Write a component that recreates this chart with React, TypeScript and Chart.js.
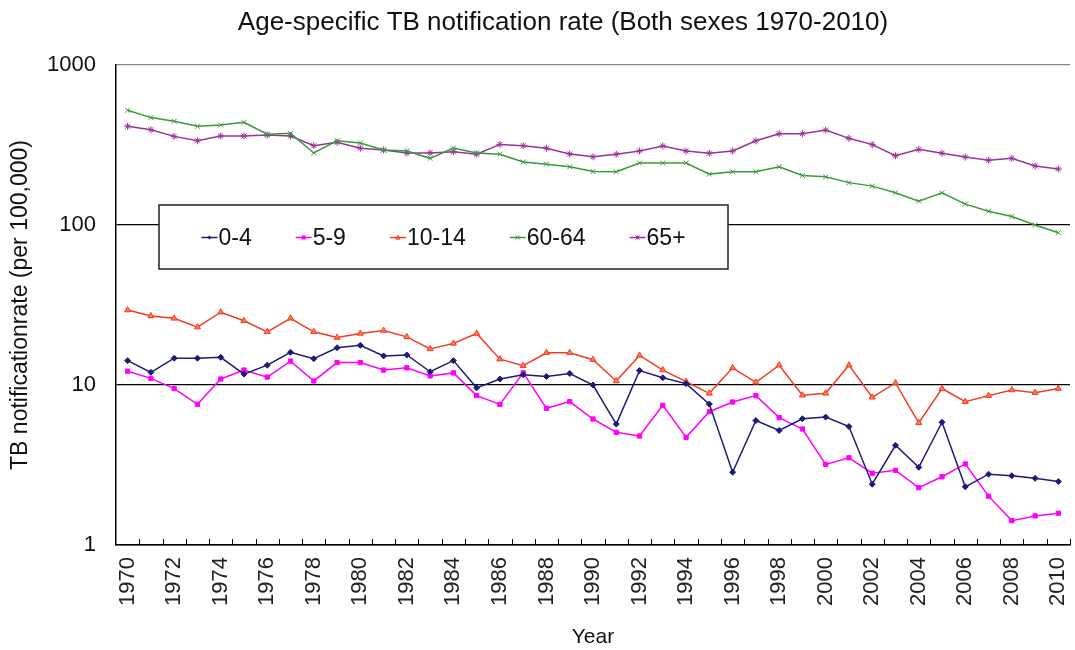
import React, { useEffect, useRef } from "react";
import { Chart, registerables } from "chart.js";

Chart.register(...registerables);

// ---------- data ----------
const years = [
  "1970", "1971", "1972", "1973", "1974", "1975", "1976", "1977", "1978", "1979",
  "1980", "1981", "1982", "1983", "1984", "1985", "1986", "1987", "1988", "1989",
  "1990", "1991", "1992", "1993", "1994", "1995", "1996", "1997", "1998", "1999",
  "2000", "2001", "2002", "2003", "2004", "2005", "2006", "2007", "2008", "2009", "2010",
];

const rate0to4 = [
  14.2, 12.0, 14.7, 14.7, 14.9, 11.7, 13.3, 16.0, 14.6, 17.1,
  17.7, 15.2, 15.4, 12.1, 14.2, 9.6, 10.9, 11.6, 11.3, 11.8,
  10.0, 5.7, 12.3, 11.1, 10.2, 7.6, 2.85, 6.0, 5.2, 6.15,
  6.3, 5.5, 2.4, 4.2, 3.06, 5.85, 2.31, 2.77, 2.71, 2.61, 2.49,
];

const rate5to9 = [
  12.2, 11.0, 9.5, 7.57, 10.9, 12.4, 11.2, 14.1, 10.6, 13.8,
  13.8, 12.4, 12.8, 11.4, 11.9, 8.58, 7.57, 11.9, 7.15, 7.87,
  6.13, 5.06, 4.8, 7.47, 4.71, 6.81, 7.83, 8.58, 6.25, 5.31,
  3.19, 3.51, 2.81, 2.93, 2.28, 2.67, 3.21, 2.02, 1.42, 1.52, 1.58,
];

const rate10to14 = [
  29.4, 27.0, 26.1, 23.0, 28.5, 25.2, 21.5, 26.1, 21.5, 19.8,
  21.0, 21.9, 20.0, 16.8, 18.2, 21.0, 14.5, 13.2, 15.9, 15.9,
  14.4, 10.6, 15.3, 12.4, 10.5, 8.87, 12.8, 10.4, 13.3, 8.63,
  8.87, 13.3, 8.38, 10.3, 5.8, 9.5, 7.87, 8.58, 9.3, 8.96, 9.5,
];

const rate60to64 = [
  521, 469, 445, 414, 422, 438, 369, 374, 282, 336,
  325, 294, 290, 261, 303, 282, 277, 248, 240, 231,
  216, 215, 244, 244, 244, 208, 215, 215, 231, 204,
  200, 184, 175, 159, 141, 159, 135, 122, 113, 100, 89.5,
];

const rate65plus = [
  414, 394, 358, 336, 360, 360, 365, 360, 313, 329,
  302, 294, 282, 282, 287, 277, 319, 313, 302, 278,
  267, 277, 290, 312, 290, 281, 290, 336, 372, 372,
  392, 348, 318, 271, 297, 281, 266, 254, 261, 234, 224,
];

const seriesLabels = ["0-4", "5-9", "10-14", "60-64", "65+"];
const yTickValues = [1, 10, 100, 1000];

const chartTitle = "Age-specific TB notification rate (Both sexes 1970-2010)";
const yAxisTitle = "TB notificationrate (per 100,000)";
const xAxisTitle = "Year";

// ---------- styles ----------
const FONT = "'Liberation Sans', Arial, sans-serif";
const seriesColors = ["#1c1c78", "#ff00ff", "#f03c1e", "#3a9a3a", "#993399"];
const seriesFills = ["#1c1c78", "#ff00ff", "#ff7a5a", "#3a9a3a", "#993399"];
const seriesPointStyles = ["rectRot", "rect", "triangle", "crossRot", "star"];
const seriesPointRadius = [3, 3, 3.5, 3.5, 3.5];

function drawMarker(ctx: CanvasRenderingContext2D, style: string, x: number, y: number, r: number, stroke: string, fill: string) {
  ctx.save();
  ctx.strokeStyle = stroke;
  ctx.fillStyle = fill;
  ctx.lineWidth = 1;
  ctx.beginPath();
  if (style === "rect") {
    ctx.rect(x - r, y - r, 2 * r, 2 * r);
    ctx.fill();
  } else if (style === "rectRot") {
    ctx.moveTo(x, y - r);
    ctx.lineTo(x + r, y);
    ctx.lineTo(x, y + r);
    ctx.lineTo(x - r, y);
    ctx.closePath();
    ctx.fill();
  } else if (style === "triangle") {
    ctx.moveTo(x, y - r);
    ctx.lineTo(x + r, y + r * 0.8);
    ctx.lineTo(x - r, y + r * 0.8);
    ctx.closePath();
    ctx.fill();
    ctx.stroke();
  } else if (style === "crossRot") {
    ctx.moveTo(x - r, y - r);
    ctx.lineTo(x + r, y + r);
    ctx.moveTo(x + r, y - r);
    ctx.lineTo(x - r, y + r);
    ctx.stroke();
  } else {
    ctx.moveTo(x - r, y - r);
    ctx.lineTo(x + r, y + r);
    ctx.moveTo(x + r, y - r);
    ctx.lineTo(x - r, y + r);
    ctx.moveTo(x, y - r);
    ctx.lineTo(x, y + r);
    ctx.stroke();
  }
  ctx.restore();
}

const titlePlugin = {
  id: "customTitle",
  afterDraw(chart: any) {
    const ctx = chart.ctx as CanvasRenderingContext2D;
    ctx.save();
    ctx.font = `26px ${FONT}`;
    ctx.fillStyle = "#111";
    ctx.textAlign = "center";
    ctx.textBaseline = "middle";
    ctx.fillText(chartTitle, 563, 23);
    ctx.restore();
  },
};

const xTickMarksPlugin = {
  id: "xTickMarks",
  afterDraw(chart: any) {
    const xs = chart.scales.x;
    const ctx = chart.ctx as CanvasRenderingContext2D;
    const n = chart.data.labels.length;
    const step = (xs.right - xs.left) / n;
    ctx.save();
    ctx.strokeStyle = "#000";
    ctx.lineWidth = 1;
    ctx.beginPath();
    for (let i = 1; i <= n; i++) {
      const x = Math.round(xs.left + i * step) + 0.5;
      ctx.moveTo(x, xs.top);
      ctx.lineTo(x, xs.top - 6);
    }
    ctx.stroke();
    ctx.restore();
  },
};

const boxLegendPlugin = {
  id: "boxLegend",
  afterDraw(chart: any) {
    const ctx = chart.ctx as CanvasRenderingContext2D;
    const area = chart.chartArea;
    const bx = area.left + 43;
    const by = area.top + 140;
    const bw = 569;
    const bh = 64;
    ctx.save();
    ctx.fillStyle = "#fff";
    ctx.fillRect(bx, by, bw, bh);
    ctx.strokeStyle = "#222";
    ctx.lineWidth = 1.5;
    ctx.strokeRect(bx, by, bw, bh);

    ctx.font = `23px ${FONT}`;
    ctx.textBaseline = "middle";
    ctx.textAlign = "left";
    const lineLen = 16;
    const gap = 1;
    const spacing = 44;
    const items = chart.data.datasets.map((ds: any) => ({
      label: ds.label,
      w: lineLen + gap + ctx.measureText(ds.label).width,
      color: ds.borderColor,
      fill: ds.pointBackgroundColor,
      style: ds.pointStyle,
    }));
    const total = items.reduce((s: number, it: any) => s + it.w, 0) + spacing * (items.length - 1);
    let x = bx + (bw - total) / 2;
    const cy = by + bh / 2 + 0.5;
    items.forEach((it: any) => {
      ctx.strokeStyle = it.color;
      ctx.lineWidth = 1.5;
      ctx.beginPath();
      ctx.moveTo(x, cy);
      ctx.lineTo(x + lineLen, cy);
      ctx.stroke();
      drawMarker(ctx, it.style, x + lineLen / 2, cy, 2, it.color, it.fill);
      ctx.fillStyle = "#111";
      ctx.fillText(it.label, x + lineLen + gap, cy + 1);
      x += it.w + spacing;
    });
    ctx.restore();
  },
};

export default function App() {
  const canvasRef = useRef<HTMLCanvasElement | null>(null);

  useEffect(() => {
    document.body.style.margin = "0";
    const canvas = canvasRef.current;
    if (!canvas) return;
    Chart.defaults.font.family = FONT;

    const seriesValues = [rate0to4, rate5to9, rate10to14, rate60to64, rate65plus];
    const datasets = seriesLabels.map((label, i) => ({
      label,
      data: seriesValues[i],
      borderColor: seriesColors[i],
      backgroundColor: seriesFills[i],
      pointBackgroundColor: seriesFills[i],
      pointBorderColor: seriesColors[i],
      pointStyle: seriesPointStyles[i],
      pointRadius: seriesPointRadius[i],
      pointBorderWidth: 1,
      borderWidth: 1.5,
      tension: 0,
      fill: false,
    }));

    const chart = new Chart(canvas, {
      type: "line",
      data: { labels: years, datasets },
      options: {
        responsive: false,
        animation: false,
        layout: { padding: { top: 65, left: 0, right: 0, bottom: 0 } },
        plugins: {
          legend: { display: false },
          title: { display: false },
          tooltip: { enabled: false },
        },
        scales: {
          x: {
            type: "category",
            offset: true,
            grid: { display: true, drawOnChartArea: false, drawTicks: false, offset: true },
            border: { display: true, color: "#000", width: 1.5 },
            ticks: {
              autoSkip: false,
              minRotation: 90,
              maxRotation: 90,
              padding: 12,
              color: "#222",
              font: { size: 22, family: FONT },
              callback: (_v: any, i: number) => (i % 2 === 0 ? years[i] : ""),
            },
            title: {
              display: true,
              text: xAxisTitle,
              color: "#111",
              font: { size: 21, family: FONT },
              padding: { top: 0, bottom: 0 },
            },
            afterFit: (s: any) => {
              s.height = 105;
              s.paddingRight = 0;
              s.paddingLeft = 0;
            },
          },
          y: {
            type: "logarithmic",
            min: 1,
            max: 1000,
            afterBuildTicks: (s: any) => {
              s.ticks = yTickValues.map((v) => ({ value: v }));
            },
            grid: {
              color: (c: any) => (c.tick && c.tick.value === 1000 ? "#888" : "#000"),
              lineWidth: 1.2,
              drawTicks: false,
            },
            border: { display: true, color: "#000", width: 1.5 },
            ticks: {
              padding: 20,
              color: "#111",
              font: { size: 22, family: FONT },
              callback: (v: any) => String(v),
            },
            title: {
              display: true,
              text: yAxisTitle,
              color: "#111",
              font: { size: 23, family: FONT },
              padding: { top: 7, bottom: 0 },
            },
            afterFit: (s: any) => {
              s.width = 116;
              s.paddingTop = 0;
              s.paddingBottom = 0;
            },
          },
        },
      } as any,
      plugins: [titlePlugin, xTickMarksPlugin, boxLegendPlugin],
    });

    return () => chart.destroy();
  }, []);

  return (
    <div style={{ width: 1075, height: 650 }}>
      <canvas ref={canvasRef} width={1075} height={650} />
    </div>
  );
}
